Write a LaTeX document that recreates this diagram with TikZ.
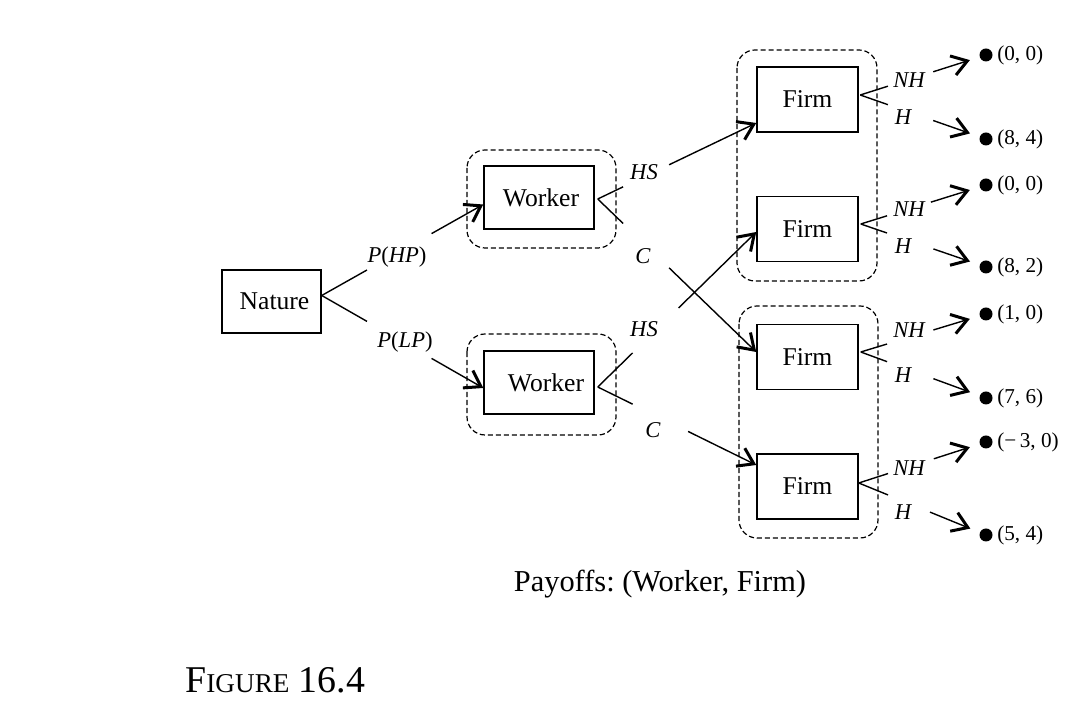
\documentclass[tikz,border=0pt]{standalone}
\usepackage{fontspec}
\setmainfont{Liberation Serif}
\frenchspacing
\usetikzlibrary{calc,arrows.meta}
\newcommand\brokenedge[5][]{%
  \draw[edge] (#2) -- ($(#2)!#4!(#3)$);
  \draw[edge,arr,#1] ($(#2)!#5!(#3)$) -- (#3);
}
\tikzset{
  box/.style={draw, line width=0.75pt, inner sep=0pt, font=\fontsize{12.8}{15}\selectfont},
  wbox/.style={box, minimum width=55pt, minimum height=31.5pt},
  fbox/.style={box, minimum width=50.5pt, minimum height=32.5pt},
  edge/.style={line width=0.7pt},
  arr/.style={-{Straight Barb[length=7.5pt,width=10pt,line width=1.5pt]}},
  infoset/.style={draw, dashed, dash pattern=on 2.6pt off 1.4pt, line width=0.6pt, rounded corners=9pt},
  dot/.style={circle, fill=black, inner sep=0pt, minimum size=6.5pt},
  pay/.style={anchor=west, inner xsep=2pt, inner ysep=0pt, font=\fontsize{10.6}{12}\selectfont},
  lbl/.style={inner sep=0pt, font=\fontsize{11.3}{13}\selectfont\itshape},
}
\begin{document}
\begin{tikzpicture}[x=0.5pt,y=-0.5pt]
\useasboundingbox (0,0) rectangle (1089,710);

% decision nodes
\node[box, minimum width=49.5pt, minimum height=31.5pt] (nature) at (271.5,301.5) {\hspace{3pt}Nature};
\node[wbox] (w1) at (539,197.5) {\hspace{2pt}Worker};
\node[wbox] (w2) at (539,382.5) {\hspace{7pt}Worker};
\node[fbox] (f1) at (807.5,99.5) {Firm};
\node[fbox] (f2) at (807.5,229) {Firm};
\node[fbox] (f3) at (807.5,357) {Firm};
\node[fbox] (f4) at (807.5,486.5) {Firm};

% information sets
\draw[infoset] (467,150) rectangle (616,248);
\draw[infoset] (467,334) rectangle (616,435);
\draw[infoset] (737,50) rectangle (877,281);
\draw[infoset] (739,306) rectangle (878,538);

% terminal nodes
\node[dot] (p1) at (986,55) {};
\node[dot] (p2) at (986,139) {};
\node[dot] (p3) at (986,185) {};
\node[dot] (p4) at (986,267) {};
\node[dot] (p5) at (986,314) {};
\node[dot] (p6) at (986,398) {};
\node[dot] (p7) at (986,442) {};
\node[dot] (p8) at (986,535) {};
\node[pay] (t1) at (p1.east) {(0, 0)};
\node[pay] (t2) at (p2.east) {(8, 4)};
\node[pay] (t3) at (p3.east) {(0, 0)};
\node[pay] (t4) at (p4.east) {(8, 2)};
\node[pay] (t5) at (p5.east) {(1, 0)};
\node[pay] (t6) at (p6.east) {(7, 6)};
\node[pay] (t7) at (p7.east) {(−\,3, 0)};
\node[pay] (t8) at (p8.east) {(5, 4)};

% connection points
\coordinate (nat) at ([yshift=3pt]nature.east);
\coordinate (w1in) at ([yshift=-3.5pt]w1.west);
\coordinate (w2in) at ([yshift=-2.75pt]w2.west);
\coordinate (w1out) at ([xshift=1.5pt,yshift=-0.75pt]w1.east);
\coordinate (w2out) at ([xshift=1.5pt,yshift=-2.25pt]w2.east);
\coordinate (f1in) at ([yshift=-11.75pt]f1.west);
\coordinate (f2in) at ([yshift=-1.5pt]f2.west);
\coordinate (f3in) at ([yshift=2.5pt]f3.west);
\coordinate (f4in) at ([yshift=10.75pt]f4.west);
\coordinate (f1out) at ([xshift=0.75pt,yshift=2.25pt]f1.east);
\coordinate (f2out) at ([xshift=1pt,yshift=2.5pt]f2.east);
\coordinate (f3out) at ([xshift=1pt,yshift=2.5pt]f3.east);
\coordinate (f4out) at ([yshift=1.75pt]f4.east);

% Nature moves
\brokenedge{nat}{w1in}{0.28}{0.68}
\brokenedge{nat}{w2in}{0.28}{0.68}
\node[lbl] (lhp) at (397,257) {P\upshape(\itshape HP\upshape)};
\node[lbl] (llp) at (405,342) {P\upshape(\itshape LP\upshape)};

% Worker moves
\brokenedge{w1out}{f1in}{0.16}{0.45}
\brokenedge{w1out}{f3in}{0.16}{0.45}
\brokenedge{w2out}{f2in}{0.22}{0.51}
\brokenedge{w2out}{f4in}{0.22}{0.57}
\node[lbl] (lhs1) at (644,172) {HS};
\node[lbl] (lc1) at (643,256) {C};
\node[lbl] (lhs2) at (644,329) {HS};
\node[lbl] (lc2) at (653,430) {C};

% Firm moves
\brokenedge[shorten >=5pt]{f1out}{p1}{0.22}{0.58}
\brokenedge[shorten >=5pt]{f1out}{p2}{0.22}{0.58}
\brokenedge[shorten >=5pt]{f2out}{p3}{0.21}{0.56}
\brokenedge[shorten >=5pt]{f2out}{p4}{0.21}{0.58}
\brokenedge[shorten >=5pt]{f3out}{p5}{0.21}{0.58}
\brokenedge[shorten >=5pt]{f3out}{p6}{0.21}{0.58}
\brokenedge[shorten >=5pt]{f4out}{p7}{0.23}{0.59}
\brokenedge[shorten >=5pt]{f4out}{p8}{0.23}{0.56}
\node[lbl] (lnh1) at (909,80) {NH};
\node[lbl] (lh1) at (903,117) {H};
\node[lbl] (lnh2) at (909,209) {NH};
\node[lbl] (lh2) at (903,246) {H};
\node[lbl] (lnh3) at (909,330) {NH};
\node[lbl] (lh3) at (903,375) {H};
\node[lbl] (lnh4) at (909,468) {NH};
\node[lbl] (lh4) at (903,512) {H};

% captions
\node[inner sep=0pt, font=\fontsize{15.2}{18}\selectfont] (cap) at (660,584) {Payoffs: (Worker, Firm)};
\node[inner sep=0pt, anchor=base west] (fig) at (185,693)
  {{\fontsize{18.9}{22}\selectfont F}{\fontsize{13.6}{16}\selectfont IGURE}{\fontsize{18.9}{22}\selectfont\ 16.4}};
\end{tikzpicture}
\end{document}
